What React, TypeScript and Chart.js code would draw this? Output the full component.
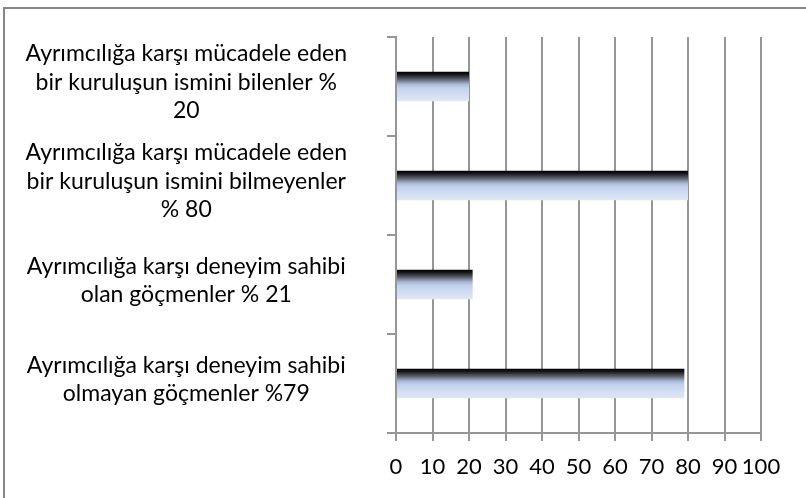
import React, { useEffect, useRef } from "react";
import { Chart, registerables } from "chart.js";

Chart.register(...registerables);

const categories: string[][] = [
  ["Ayrımcılığa karşı mücadele eden", "bir kuruluşun ismini bilenler %", "20"],
  ["Ayrımcılığa karşı mücadele eden", "bir kuruluşun ismini bilmeyenler", "% 80"],
  ["Ayrımcılığa karşı deneyim sahibi", "olan göçmenler % 21"],
  ["Ayrımcılığa karşı deneyim sahibi", "olmayan göçmenler %79"],
];
const values: number[] = [20, 80, 21, 79];
const xTicks: number[] = [0, 10, 20, 30, 40, 50, 60, 70, 80, 90, 100];

const FONT = "Lato, 'Open Sans', sans-serif";
const GRID = "#969696";
const BAR_PCT = 0.3;

const framePlugin = {
  id: "frame",
  beforeDraw(chart: any) {
    const ctx = chart.ctx;
    ctx.save();
    ctx.strokeStyle = "#868686";
    ctx.lineWidth = 2;
    ctx.beginPath();
    ctx.moveTo(4, chart.height + 5);
    ctx.lineTo(4, 8);
    ctx.lineTo(chart.width + 5, 8);
    ctx.stroke();
    ctx.restore();
  },
};

export default function App() {
  const ref = useRef<HTMLCanvasElement | null>(null);
  useEffect(() => {
    if (!ref.current) return;
    const chart = new Chart(ref.current, {
      type: "bar",
      data: {
        labels: categories,
        datasets: [
          {
            data: values,
            categoryPercentage: 1,
            barPercentage: BAR_PCT,
            borderWidth: 0,
            backgroundColor: (c: any) => {
              const ch = c.chart;
              const ys = ch.scales && ch.scales.y;
              if (!ys || !ch.chartArea || c.dataIndex === undefined) return "#c6d5f0";
              const center = ys.getPixelForValue(c.dataIndex);
              const h = (ys.height / categories.length) * BAR_PCT;
              if (!isFinite(center) || !isFinite(h) || h <= 0) return "#c6d5f0";
              const g = ch.ctx.createLinearGradient(0, center - h / 2, 0, center + h / 2);
              g.addColorStop(0, "#000000");
              g.addColorStop(0.08, "#111111");
              g.addColorStop(0.25, "#585d68");
              g.addColorStop(0.42, "#a9b8d6");
              g.addColorStop(0.55, "#c3d2ee");
              g.addColorStop(1, "#e0e8f6");
              return g;
            },
          },
        ],
      },
      options: {
        indexAxis: "y",
        responsive: false,
        animation: false,
        events: [],
        layout: { padding: { top: 37, left: 0, right: 45, bottom: 0 } },
        plugins: { legend: { display: false }, tooltip: { enabled: false } },
        scales: {
          x: {
            min: 0,
            max: 100,
            afterBuildTicks: (s: any) => {
              s.ticks = xTicks.map((v) => ({ value: v }));
            },
            afterFit: (s: any) => {
              s.height = 65;
            },
            grid: { color: GRID, lineWidth: 2, tickLength: 8, drawTicks: true },
            border: { color: GRID, width: 2 },
            ticks: {
              color: "#000",
              padding: 13,
              font: { family: FONT, size: 22 },
              maxRotation: 0,
              autoSkip: false,
            },
          },
          y: {
            offset: true,
            afterFit: (s: any) => {
              s.width = 396;
              s.paddingTop = 0;
              s.paddingBottom = 0;
            },
            grid: { offset: true, drawOnChartArea: false, drawTicks: true, tickLength: 9, color: GRID, lineWidth: 2 },
            border: { color: GRID, width: 2 },
            ticks: {
              color: "#000",
              crossAlign: "center",
              padding: 40,
              labelOffset: -4,
              font: { family: FONT, size: 23, lineHeight: 1.24 },
              autoSkip: false,
            },
          },
        },
      },
      plugins: [framePlugin],
    });
    chart.update();
    return () => chart.destroy();
  }, []);
  return (
    <div style={{ position: "fixed", left: 0, top: 0, width: 806, height: 498, background: "#fff", overflow: "hidden" }}>
      <canvas ref={ref} width={806} height={498} style={{ display: "block" }} />
    </div>
  );
}
